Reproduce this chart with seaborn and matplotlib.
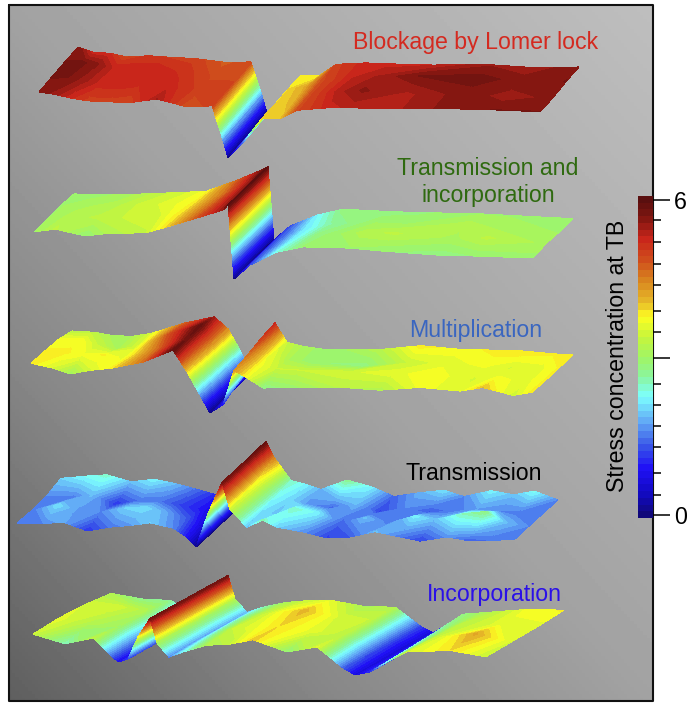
import numpy as np
import matplotlib
matplotlib.use("Agg")
import matplotlib.pyplot as plt
from matplotlib.colors import LinearSegmentedColormap
import seaborn as sns

sns.set_theme(style="white")
plt.rcParams['font.family'] = ['Liberation Sans', 'DejaVu Sans']

# stress along each strip, front edge to back edge
lomer_s = [39, 55, 71, 87, 110, 127, 157, 187, 212, 223, 228, 245, 262, 280, 297, 327, 350, 393, 453, 493, 540]
lomer_front = [5.67, 5.5, 5.2, 5.0, 5.0, 4.95, 5.45, 4.8, 5.0, 1.7, 0, 1.8, 4.0, 4.0, 4.9, 5.25, 5.35, 5.4, 5.65, 5.7, 5.7]
lomer_mid1 = [5.7, 5.7, 5.5, 5.25, 5.25, 5.2, 5.25, 5.0, 5.0, 1.7, 0, 1.8, 3.9, 4.1, 4.9, 5.4, 5.6, 5.4, 5.65, 5.5, 5.6]
lomer_mid2 = [5.7, 5.75, 5.6, 5.3, 5.25, 5.3, 5.15, 4.9, 4.9, 1.7, 0, 1.8, 3.9, 4.2, 4.9, 5.3, 5.45, 5.7, 5.75, 5.65, 5.7]
lomer_back = [5.67, 5.2, 5.2, 4.9, 5.1, 5.05, 5.0, 4.75, 4.9, 1.7, 0, 1.8, 3.8, 3.8, 5.0, 5.25, 5.25, 5.3, 5.55, 5.45, 5.68]

transinc_s = [34, 55, 85, 110, 145, 167, 197, 223, 228, 234, 250, 277, 303, 350, 380, 440, 473, 533]
transinc_front = [2.98, 3.3, 2.87, 3.2, 3.37, 3.94, 4.8, 5.56, 6.0, 0, 1.2, 2.37, 2.9, 3.0, 2.9, 2.8, 2.88, 2.97]
transinc_mid1 = [3.0, 3.2, 3.3, 3.4, 3.5, 3.9, 4.7, 5.6, 6.0, 0, 1.2, 2.2, 2.8, 3.2, 3.3, 3.1, 3.3, 3.1]
transinc_mid2 = [3.0, 3.1, 3.2, 3.4, 3.6, 3.8, 4.6, 5.6, 6.0, 0, 1.2, 2.1, 2.6, 3.0, 3.0, 3.2, 3.1, 3.0]
transinc_back = [2.9, 2.95, 3.05, 3.25, 3.5, 3.7, 4.7, 5.7, 5.95, 0, 1.2, 2.2, 2.8, 2.8, 2.85, 3.0, 3.0, 3.0]

multi_s = [31, 53, 70, 90, 110, 143, 173, 187, 200, 210, 223, 234, 246, 263, 287, 337, 380, 420, 460, 483, 513, 532]
multi_front = [3.85, 3.5, 3.03, 3.5, 3.8, 4.6, 5.95, 3.9, 1.7, 0, 0.9, 4.3, 3.7, 2.75, 2.9, 3.27, 3.2, 3.7, 3.57, 4.05, 3.45, 3.85]
multi_mid1 = [3.8, 3.8, 3.7, 3.8, 3.6, 4.6, 5.8, 4.2, 1.9, 0.05, 1.6, 4.6, 3.7, 3.4, 3.4, 3.5, 3.6, 3.75, 3.5, 3.7, 3.6, 3.8]
multi_mid2 = [3.7, 3.75, 3.4, 3.1, 3.5, 4.9, 5.9, 4.4, 2.0, 0.1, 2.2, 5.0, 3.6, 3.1, 2.9, 2.8, 3.4, 3.6, 3.7, 3.5, 3.6, 3.8]
multi_back = [3.3, 3.3, 3.1, 3.1, 3.5, 4.7, 5.5, 4.4, 2.2, 0.2, 2.9, 5.25, 3.4, 3.1, 2.9, 3.2, 3.85, 3.7, 3.85, 3.9, 3.8, 3.8]

trans_s = [17, 43, 63, 87, 110, 130, 150, 173, 186, 196, 208, 222, 230, 247, 262, 277, 303, 327, 350, 375, 400, 420, 447, 470, 490, 514]
trans_front = [1.58, 1.6, 1.8, 1.1, 1.5, 1.7, 2.0, 1.6, 0.9, 0, 3.0, 5.8, 3.4, 1.9, 2.6, 2.0, 1.65, 1.2, 1.35, 1.9, 1.5, 1.2, 1.65, 1.36, 1.5, 1.58]
trans_mid1 = [1.5, 2.1, 1.7, 1.6, 2.0, 2.1, 1.8, 1.3, 0.7, 0, 3.0, 5.8, 3.6, 2.1, 1.9, 2.5, 2.2, 1.4, 1.9, 1.5, 2.2, 1.9, 2.5, 2.8, 1.9, 1.6]
trans_mid2 = [1.6, 1.5, 1.9, 1.1, 1.5, 1.5, 1.2, 0.9, 0.5, 0.05, 2.9, 5.85, 3.8, 2.3, 2.0, 1.7, 1.4, 1.9, 1.2, 1.6, 1.3, 1.5, 1.7, 1.6, 1.5, 1.6]
trans_back = [2.0, 2.28, 2.45, 1.9, 2.2, 1.9, 1.5, 1.0, 0.5, 0.1, 2.8, 5.9, 4.5, 2.5, 2.2, 1.8, 2.7, 2.2, 1.4, 1.8, 2.1, 1.6, 2.2, 1.9, 2.3, 1.58]

incorp_s = [33, 65, 93, 118, 128, 138, 150, 157, 169, 183, 207, 227, 253, 287, 317, 343, 355, 370, 385, 407, 450, 486]
incorp_front = [3.4, 2.5, 3.3, 0.78, 1.17, 3.67, 5.8, 3.1, 1.6, 2.25, 3.15, 3.3, 4.0, 2.83, 3.55, 1.37, 0.65, 1.07, 2.15, 3.5, 3.9, 3.4]
incorp_mid1 = [3.6, 3.2, 3.0, 0.8, 1.2, 3.7, 5.8, 3.1, 1.7, 2.4, 3.4, 3.6, 3.9, 3.6, 3.3, 1.2, 0.6, 1.1, 2.3, 3.4, 4.2, 3.5]
incorp_mid2 = [3.5, 3.5, 3.2, 0.9, 1.6, 3.9, 5.8, 3.0, 1.7, 2.5, 3.3, 3.7, 4.1, 3.5, 3.4, 1.1, 0.55, 1.3, 2.5, 3.3, 3.6, 3.6]
incorp_back = [3.15, 2.7, 2.7, 1.0, 2.5, 4.2, 5.8, 3.2, 1.8, 2.4, 3.1, 3.4, 3.6, 3.1, 3.2, 1.2, 0.55, 1.6, 2.8, 3.1, 3.7, 3.8]

major_ticks = [6, 3, 0]
minor_ticks = [5.62, 5.2, 4.78, 4.38, 3.89, 3.49, 2.51, 2.11, 1.7, 1.3, 0.8, 0.38]
tick_labels = ["6", "", "0"]

# colorbar stops
stress_stops = [-0.05, 0.35, 0.85, 1.3, 1.75, 2.25, 2.65, 3.0, 3.4, 3.8, 4.05, 4.5, 4.9, 5.3, 5.75, 6.08]
stop_colors = ["#10087a", "#120ac0", "#1f10f5", "#3a58e8", "#62a8f5", "#7cffff", "#8cf59a", "#a0f565",
               "#c6f53c", "#ffff20", "#e8bd2a", "#d8851f", "#cf4d1c", "#c9261b", "#7a1510", "#5a0f0f"]

vmin, vmax = stress_stops[0], stress_stops[-1]
n_levels = 48
cmap = LinearSegmentedColormap.from_list(
    "stress", [((v - vmin) / (vmax - vmin), c) for v, c in zip(stress_stops, stop_colors)], N=n_levels)
levels = np.linspace(vmin, vmax, n_levels + 1)

fig = plt.figure(figsize=(6.88, 7.04), dpi=100)
ax = fig.add_axes([0, 0, 1, 1])
ax.axis("off")

# grey background
gx, gy = np.meshgrid(np.linspace(0, 1, 200), np.linspace(0, 1, 200))
grad = np.interp((gx + gy) / 2, [0, 0.25, 0.5, 1], [95, 135, 162, 190])
ax.imshow(grad, extent=(9, 653, 701, 5), origin="lower", cmap="gray", vmin=0, vmax=255, aspect="auto", zorder=0)
ax.set_xlim(0, 688)
ax.set_ylim(704, 0)
ax.plot([9, 9, 653, 653, 9], [5, 701, 701, 5, 5], color="#111111", lw=1.5, zorder=1)


def draw_strip(s, rows, x0, y0, slope, k, dx, dy, z0):
    s = np.array(s, dtype=float)
    z = np.array(rows, dtype=float)
    depth = np.linspace(0, 1, z.shape[0])[:, None]
    X = s + dx * depth
    Y = y0 + slope * (s - x0) - k * z + dy * depth
    # column by column from the left so the folds overlap properly
    for i in range(len(s) - 1):
        ax.contourf(X[:, i:i + 2], Y[:, i:i + 2], z[:, i:i + 2], levels=levels, cmap=cmap,
                    extend="both", zorder=z0 + i * 0.01)


draw_strip(lomer_s, [lomer_front, lomer_mid1, lomer_mid2, lomer_back], 228, 158, 0.04, 10.3, 39, -45, 2)
draw_strip(transinc_s, [transinc_front, transinc_mid1, transinc_mid2, transinc_back], 234, 279, 0.052, 12.3, 40, -39, 3)
draw_strip(multi_s, [multi_front, multi_mid1, multi_mid2, multi_back], 210, 413, 0.058, 10.2, 41, -38, 4)
draw_strip(trans_s, [trans_front, trans_mid1, trans_mid2, trans_back], 196, 547, 0.034, 11.3, 44, -40, 5)
draw_strip(incorp_s, [incorp_front, incorp_mid1, incorp_mid2, incorp_back], 118, 669, 0.05, 9, 78, -43, 6)

label_size = 16.7
ax.text(476, 43, "Blockage by Lomer lock", color="#d42a20", fontsize=label_size, ha="center", va="center", zorder=10)
ax.text(488, 182, "Transmission and\nincorporation", color="#2f6a10", fontsize=label_size, ha="center", va="center",
        linespacing=1.27, zorder=10)
ax.text(476, 331, "Multiplication", color="#3a66c0", fontsize=label_size, ha="center", va="center", zorder=10)
ax.text(474, 474, "Transmission", color="black", fontsize=label_size, ha="center", va="center", zorder=10)
ax.text(494, 594, "Incorporation", color="#2a10e8", fontsize=label_size, ha="center", va="center", zorder=10)
ax.text(617, 356, "Stress concentration at TB", color="black", fontsize=label_size, rotation=90,
        ha="center", va="center", zorder=10)

# colorbar
W, H = 688, 704
cax = fig.add_axes([637.5 / W, 1 - 518 / H, 15.5 / W, 322 / H])
bar = np.linspace(vmax, vmin, n_levels)[:, None]
sns.heatmap(bar, cmap=cmap, vmin=vmin, vmax=vmax, cbar=False, ax=cax, xticklabels=False, yticklabels=False)


def bar_pos(v):
    return (vmax - np.array(v, dtype=float)) / (vmax - vmin) * n_levels


cax.set_yticks(bar_pos(major_ticks))
cax.set_yticklabels(tick_labels, fontsize=label_size, color="black")
cax.set_yticks(bar_pos(minor_ticks), minor=True)
cax.yaxis.tick_right()
cax.tick_params(axis="y", which="major", length=12, width=1.1, color="black", pad=3, right=True, left=False)
cax.tick_params(axis="y", which="minor", length=6, width=1.1, color="black", right=True, left=False)

fig.savefig("out.png", dpi=100)
